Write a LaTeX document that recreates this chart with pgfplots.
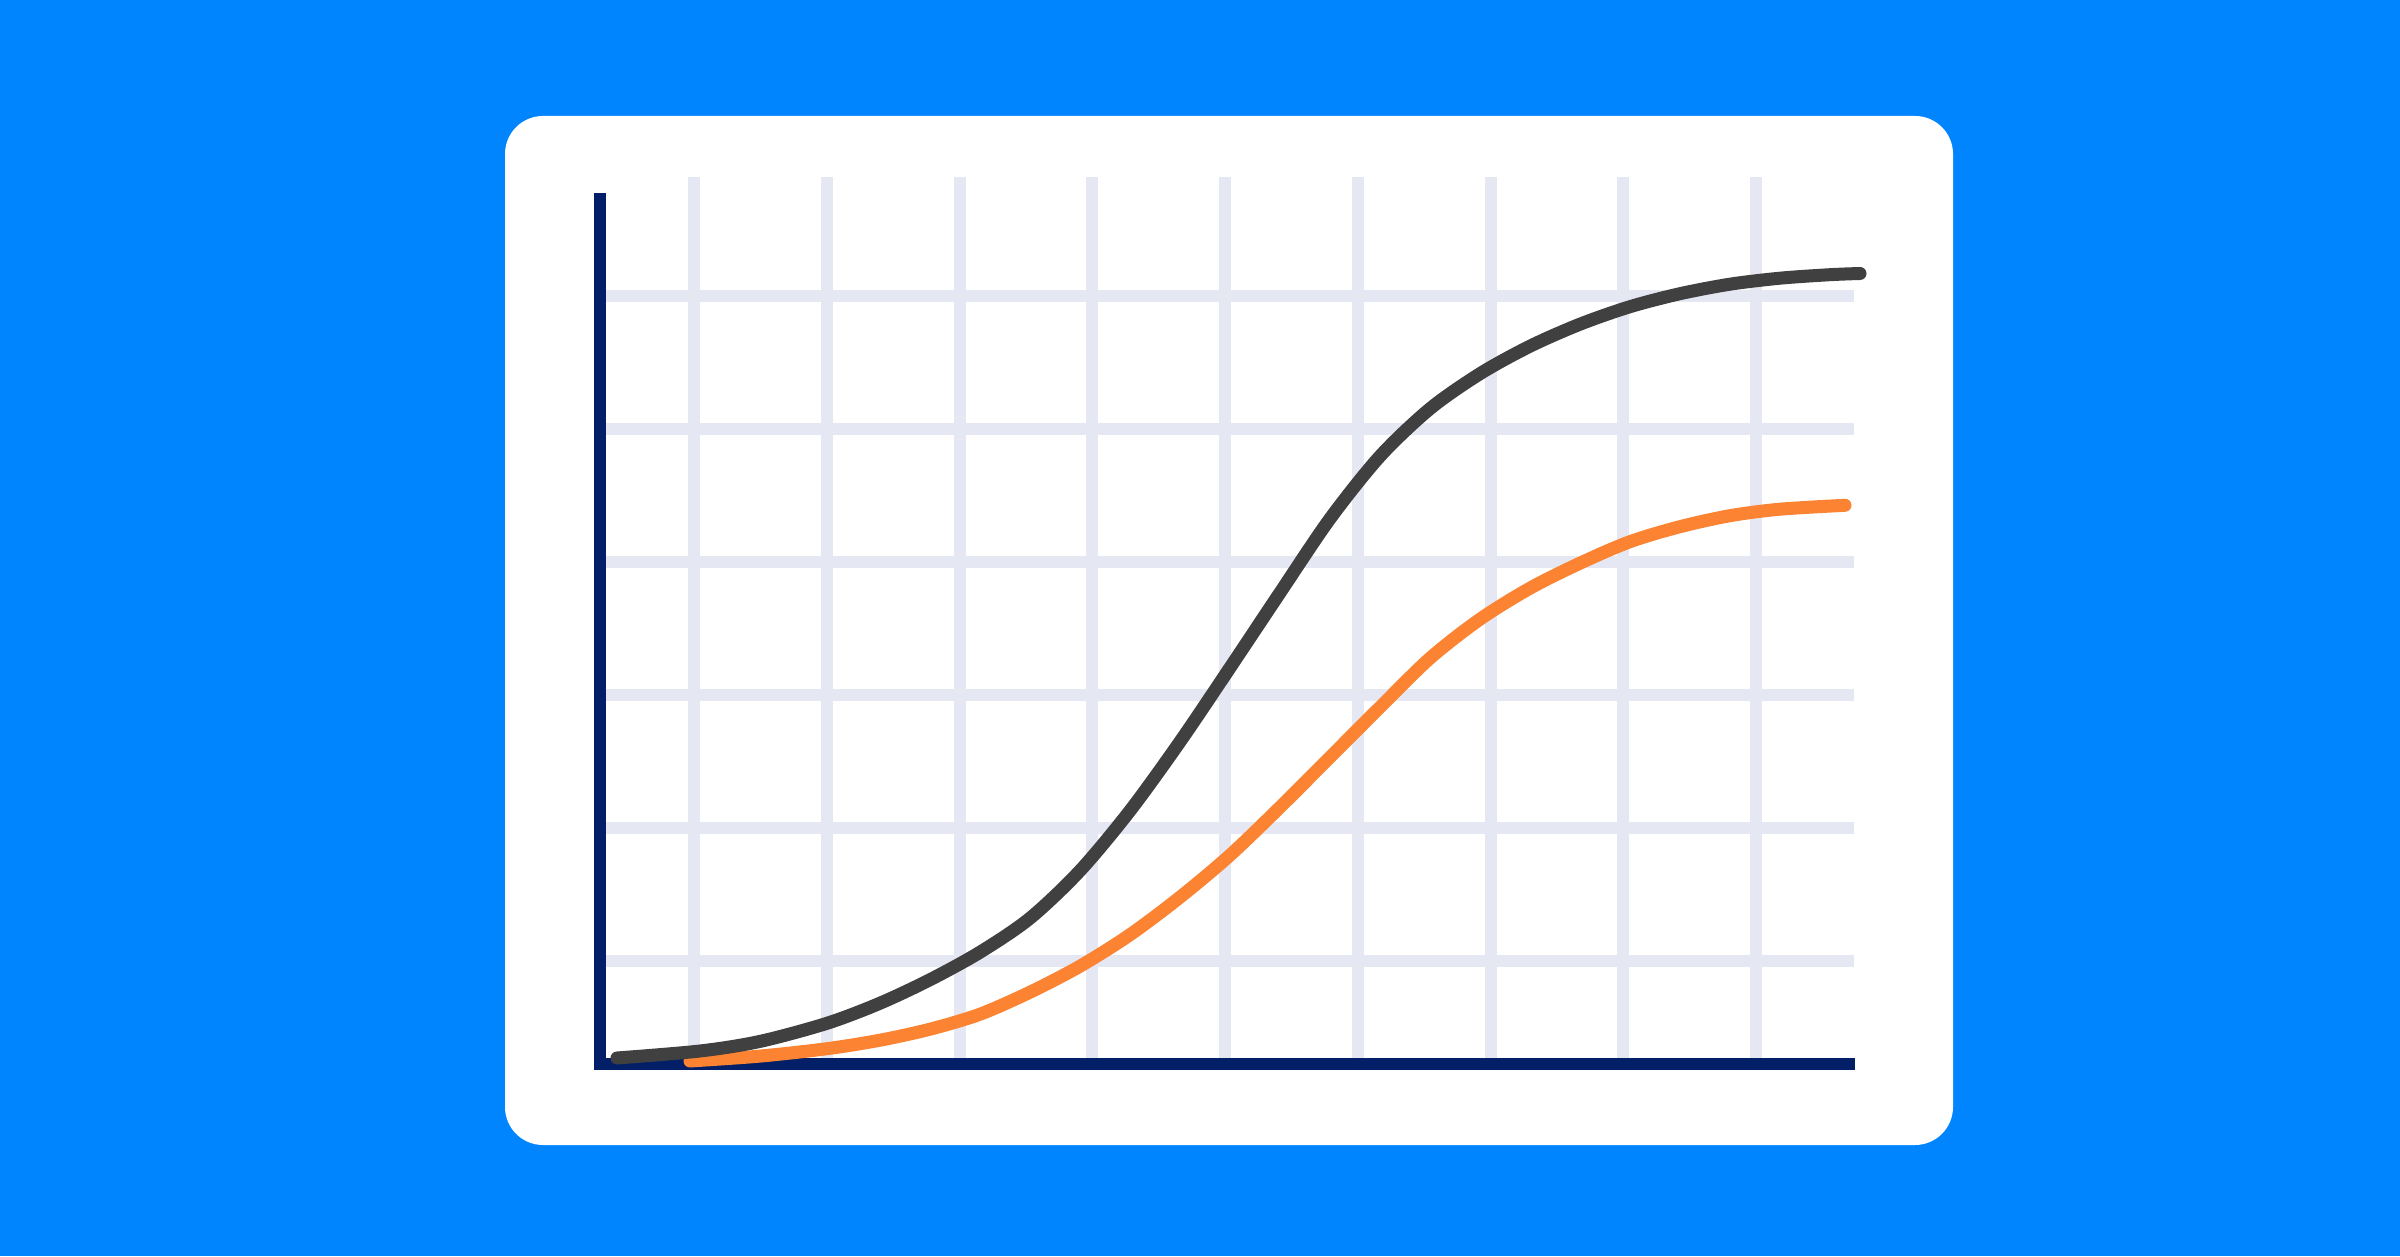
\documentclass[border=0pt]{standalone}
\usepackage{pgfplots}
\pgfplotsset{compat=1.18}
\definecolor{bgblue}{RGB}{0,133,255}
\definecolor{gridc}{RGB}{229,232,242}
\definecolor{navy}{RGB}{3,31,104}
\definecolor{darkline}{RGB}{64,64,64}
\definecolor{orangeline}{RGB}{252,131,49}
\begin{document}
\begin{tikzpicture}
\begin{axis}[
  scale only axis, width=2400pt, height=1256pt,
  xmin=0, xmax=2400, ymin=0, ymax=1256,
  axis lines=none, xtick=\empty, ytick=\empty,
  clip=false, disabledatascaling,
]
% background and card
\fill[bgblue] (axis cs:0,0) rectangle (axis cs:2400,1256);
\fill[white, rounded corners=38pt] (axis cs:505,111) rectangle (axis cs:1953,1140);
% grid
\addplot[gridc, line width=12pt, unbounded coords=jump] coordinates {
 (694,1079) (694,198) (nan,nan)
 (826.75,1079) (826.75,198) (nan,nan)
 (959.5,1079) (959.5,198) (nan,nan)
 (1092.25,1079) (1092.25,198) (nan,nan)
 (1225,1079) (1225,198) (nan,nan)
 (1357.75,1079) (1357.75,198) (nan,nan)
 (1490.5,1079) (1490.5,198) (nan,nan)
 (1623.25,1079) (1623.25,198) (nan,nan)
 (1756,1079) (1756,198) (nan,nan)
 (606,960) (1854,960) (nan,nan)
 (606,827) (1854,827) (nan,nan)
 (606,694) (1854,694) (nan,nan)
 (606,561) (1854,561) (nan,nan)
 (606,428) (1854,428) (nan,nan)
 (606,295) (1854,295)
};
% axes
\addplot[navy, line width=12pt] coordinates {(600,1063) (600,186)};
\addplot[navy, line width=12.8pt] coordinates {(594,192) (1855,192)};
% orange curve
\addplot[orangeline, line width=13pt, line cap=round, smooth] coordinates {
 (690,195) (760,199.9) (827,207.3) (880,215.8) (930,226.8) (980,241.8)
 (1030,263.8) (1080,289.8) (1130,321.3) (1180,358.8) (1230,400.8)
 (1280,448.8) (1330,498.8) (1380,548.8) (1430,597.8) (1480,636.8)
 (1530,667.8) (1580,692.8) (1630,714.3) (1680,729.3) (1730,740.3)
 (1780,746.8) (1845,750.7)
};
% dark curve
\addplot[darkline, line width=13pt, line cap=round, smooth] coordinates {
 (617,198) (700,205) (760,214.6) (827,232.7) (880,252.8) (930,276.3)
 (980,303.8) (1030,337.8) (1080,385.3) (1130,445.3) (1180,514.3)
 (1230,588.3) (1280,663.3) (1330,737.3) (1380,799.8) (1430,847.3)
 (1480,882.3) (1530,909.8) (1580,931.8) (1630,949.3) (1680,962.3)
 (1730,971.8) (1780,977.8) (1830,981.3) (1860,982.5)
};
\end{axis}
\end{tikzpicture}
\end{document}
